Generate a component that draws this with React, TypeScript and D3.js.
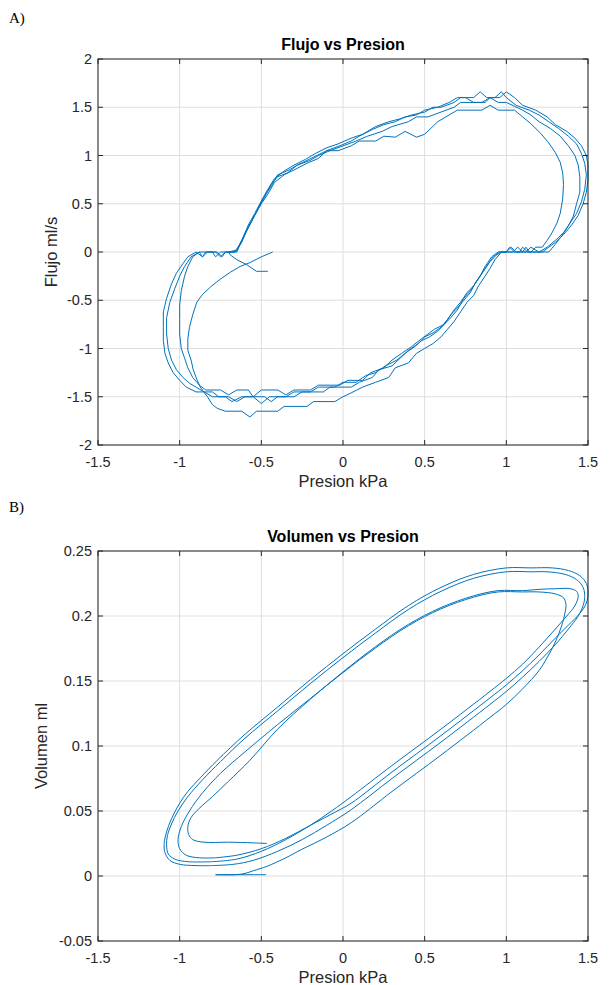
import React from "react";
import * as d3 from "d3";

type P = [number, number];

// ---- Tick values ----
const xTicks = [-1.5, -1, -0.5, 0, 0.5, 1, 1.5];
const yTicksFlow = [-2, -1.5, -1, -0.5, 0, 0.5, 1, 1.5, 2];
const yTicksVol = [-0.05, 0, 0.05, 0.1, 0.15, 0.2, 0.25];

// ---- Flujo vs Presion (pressure kPa, flow ml/s), consecutive cycles ----
const flowCycle1: P[] = [
  [-0.43, 0], [-0.5, -0.05], [-0.57, -0.11], [-0.63, -0.15], [-0.69, -0.21], [-0.75, -0.28], [-0.81, -0.36], [-0.86, -0.44],
  [-0.895, -0.52], [-0.92, -0.65], [-0.94, -0.78], [-0.95, -0.9], [-0.95, -1.02], [-0.93, -1.12], [-0.917, -1.22], [-0.895, -1.32],
  [-0.874, -1.4], [-0.83, -1.5], [-0.8, -1.58], [-0.77, -1.62], [-0.72, -1.65], [-0.62, -1.65], [-0.57, -1.71], [-0.53, -1.65],
  [-0.4, -1.65], [-0.36, -1.6], [-0.22, -1.6], [-0.18, -1.55], [-0.05, -1.55], [0.0, -1.5], [0.05, -1.46], [0.12, -1.4],
  [0.2, -1.35], [0.28, -1.3], [0.32, -1.2], [0.4, -1.15], [0.45, -1.05], [0.5, -1.0], [0.55, -0.95], [0.6, -0.88],
  [0.64, -0.8], [0.68, -0.72], [0.72, -0.62], [0.76, -0.52], [0.8, -0.45], [0.83, -0.35], [0.87, -0.25], [0.9, -0.17],
  [0.93, -0.08], [0.97, 0], [1.04, 0], [1.07, 0.05], [1.1, 0], [1.15, 0], [1.18, 0.05], [1.22, 0.05],
  [1.25, 0.12], [1.28, 0.2], [1.31, 0.3], [1.33, 0.4], [1.345, 0.55], [1.35, 0.7], [1.345, 0.82], [1.33, 0.93],
  [1.3, 1.03], [1.26, 1.13], [1.21, 1.23], [1.15, 1.33], [1.1, 1.4], [1.05, 1.47], [0.95, 1.47], [0.9, 1.52],
  [0.85, 1.47], [0.7, 1.47], [0.65, 1.42], [0.58, 1.35], [0.5, 1.22], [0.45, 1.19], [0.38, 1.25], [0.32, 1.19],
  [0.25, 1.2], [0.2, 1.15], [0.1, 1.15], [0.05, 1.1], [-0.03, 1.05], [-0.1, 1.05], [-0.15, 0.97], [-0.22, 0.92],
  [-0.3, 0.85], [-0.36, 0.8], [-0.42, 0.72], [-0.46, 0.6], [-0.5, 0.5], [-0.54, 0.38], [-0.58, 0.25], [-0.62, 0.12],
  [-0.65, 0.03], [-0.67, 0], [-0.75, 0], [-0.78, -0.05], [-0.8, 0], [-0.88, 0],
];
const flowCycle2: P[] = [
  [-0.88, 0], [-0.92, -0.05], [-0.95, -0.15], [-0.97, -0.25], [-0.99, -0.4], [-1.0, -0.55], [-1.0, -0.7], [-1.0, -0.85],
  [-0.99, -1.0], [-0.97, -1.1], [-0.95, -1.2], [-0.92, -1.3], [-0.88, -1.38], [-0.84, -1.43], [-0.75, -1.43], [-0.7, -1.48],
  [-0.65, -1.43], [-0.58, -1.43], [-0.55, -1.5], [-0.5, -1.43], [-0.4, -1.43], [-0.35, -1.48], [-0.3, -1.43], [-0.2, -1.43],
  [-0.15, -1.38], [-0.02, -1.38], [0.03, -1.33], [0.12, -1.33], [0.17, -1.25], [0.25, -1.2], [0.3, -1.12], [0.36, -1.05],
  [0.42, -0.98], [0.48, -0.9], [0.52, -0.85], [0.56, -0.8], [0.62, -0.75], [0.66, -0.65], [0.7, -0.58], [0.74, -0.5],
  [0.78, -0.42], [0.81, -0.32], [0.85, -0.22], [0.89, -0.12], [0.92, -0.05], [0.96, 0], [1.0, 0], [1.03, 0.05],
  [1.06, 0], [1.12, 0], [1.15, 0.05], [1.2, 0], [1.26, 0], [1.3, 0.08], [1.34, 0.17], [1.38, 0.27],
  [1.41, 0.37], [1.43, 0.5], [1.45, 0.62], [1.45, 0.78], [1.44, 0.9], [1.42, 1.0], [1.38, 1.1], [1.33, 1.2],
  [1.27, 1.28], [1.2, 1.35], [1.15, 1.42], [1.1, 1.47], [1.0, 1.55], [0.95, 1.55], [0.9, 1.6], [0.85, 1.55],
  [0.72, 1.55], [0.68, 1.5], [0.6, 1.45], [0.52, 1.4], [0.45, 1.4], [0.4, 1.35], [0.3, 1.3], [0.24, 1.25],
  [0.15, 1.2], [0.08, 1.15], [0.0, 1.1], [-0.08, 1.05], [-0.15, 1.0], [-0.2, 0.95], [-0.28, 0.9], [-0.33, 0.85],
  [-0.4, 0.8], [-0.44, 0.68], [-0.48, 0.58], [-0.52, 0.45], [-0.56, 0.32], [-0.6, 0.2], [-0.63, 0.08], [-0.65, 0],
  [-0.72, 0], [-0.74, -0.05], [-0.77, 0], [-0.83, 0], [-0.86, -0.05], [-0.9, 0],
];
const flowCycle3: P[] = [
  [-0.9, 0], [-0.95, -0.05], [-0.98, -0.12], [-1.02, -0.22], [-1.05, -0.33], [-1.08, -0.48], [-1.1, -0.62], [-1.1, -0.78],
  [-1.1, -0.92], [-1.09, -1.05], [-1.07, -1.15], [-1.04, -1.25], [-1.0, -1.33], [-0.96, -1.4], [-0.9, -1.45], [-0.8, -1.45],
  [-0.76, -1.5], [-0.7, -1.5], [-0.65, -1.55], [-0.6, -1.5], [-0.48, -1.5], [-0.44, -1.55], [-0.4, -1.5], [-0.3, -1.5],
  [-0.25, -1.45], [-0.12, -1.45], [-0.08, -1.4], [0.05, -1.4], [0.1, -1.35], [0.18, -1.3], [0.22, -1.22], [0.3, -1.18],
  [0.35, -1.1], [0.4, -1.02], [0.46, -0.95], [0.5, -0.88], [0.55, -0.84], [0.6, -0.78], [0.64, -0.7], [0.68, -0.6],
  [0.72, -0.52], [0.76, -0.42], [0.8, -0.35], [0.84, -0.25], [0.87, -0.15], [0.91, -0.05], [0.95, 0], [1.0, 0],
  [1.02, 0.05], [1.05, 0], [1.1, 0], [1.12, 0.05], [1.14, 0], [1.2, 0], [1.25, 0.05], [1.3, 0.12],
  [1.35, 0.2], [1.39, 0.3], [1.43, 0.4], [1.46, 0.52], [1.48, 0.65], [1.49, 0.8], [1.48, 0.92], [1.46, 1.02],
  [1.43, 1.12], [1.38, 1.2], [1.32, 1.28], [1.26, 1.35], [1.2, 1.42], [1.14, 1.47], [1.06, 1.52], [1.0, 1.6],
  [0.97, 1.66], [0.93, 1.6], [0.88, 1.6], [0.84, 1.66], [0.8, 1.6], [0.72, 1.6], [0.68, 1.55], [0.6, 1.5],
  [0.55, 1.5], [0.5, 1.45], [0.42, 1.42], [0.35, 1.38], [0.28, 1.35], [0.2, 1.3], [0.12, 1.22], [0.05, 1.18],
  [-0.03, 1.12], [-0.1, 1.08], [-0.17, 1.02], [-0.23, 0.96], [-0.3, 0.9], [-0.36, 0.84], [-0.42, 0.76], [-0.46, 0.65],
  [-0.5, 0.53], [-0.54, 0.4], [-0.58, 0.28], [-0.61, 0.15], [-0.64, 0.05], [-0.66, 0], [-0.72, 0], [-0.75, -0.05],
  [-0.78, 0], [-0.84, 0], [-0.86, -0.05], [-0.88, 0],
];
const flowCycle4: P[] = [
  [-0.88, 0], [-0.93, -0.05], [-0.97, -0.15], [-1.0, -0.25], [-1.03, -0.38], [-1.06, -0.52], [-1.08, -0.68], [-1.08, -0.85],
  [-1.07, -1.0], [-1.05, -1.12], [-1.02, -1.22], [-0.98, -1.3], [-0.94, -1.36], [-0.9, -1.4], [-0.85, -1.45], [-0.8, -1.5],
  [-0.72, -1.5], [-0.68, -1.55], [-0.62, -1.5], [-0.55, -1.5], [-0.5, -1.57], [-0.45, -1.5], [-0.35, -1.5], [-0.3, -1.45],
  [-0.2, -1.45], [-0.15, -1.4], [-0.05, -1.4], [0.0, -1.35], [0.08, -1.35], [0.14, -1.28], [0.2, -1.25], [0.26, -1.18],
  [0.33, -1.12], [0.38, -1.05], [0.44, -0.98], [0.48, -0.92], [0.53, -0.88], [0.58, -0.82], [0.62, -0.75], [0.66, -0.68],
  [0.7, -0.6], [0.74, -0.48], [0.78, -0.4], [0.82, -0.3], [0.86, -0.2], [0.9, -0.1], [0.94, -0.03], [0.97, 0],
  [1.08, 0], [1.1, 0.05], [1.13, 0], [1.22, 0], [1.26, 0.05], [1.3, 0.1], [1.35, 0.18], [1.4, 0.28],
  [1.44, 0.38], [1.47, 0.5], [1.49, 0.62], [1.5, 0.75], [1.5, 0.9], [1.49, 1.0], [1.46, 1.1], [1.42, 1.18],
  [1.37, 1.25], [1.3, 1.32], [1.25, 1.4], [1.18, 1.47], [1.1, 1.52], [1.05, 1.6], [1.0, 1.66], [0.96, 1.6],
  [0.9, 1.6], [0.87, 1.55], [0.8, 1.55], [0.75, 1.6], [0.7, 1.6], [0.65, 1.55], [0.58, 1.5], [0.5, 1.47],
  [0.45, 1.42], [0.38, 1.4], [0.32, 1.35], [0.25, 1.32], [0.18, 1.27], [0.1, 1.2], [0.05, 1.15], [-0.02, 1.1],
  [-0.1, 1.05], [-0.16, 1.0], [-0.22, 0.95], [-0.28, 0.9], [-0.34, 0.82], [-0.4, 0.78], [-0.44, 0.7], [-0.47, 0.6],
  [-0.51, 0.48], [-0.55, 0.35], [-0.59, 0.22], [-0.62, 0.1], [-0.65, 0.02], [-0.7, 0], [-0.69, -0.03], [-0.65, -0.08],
  [-0.59, -0.13], [-0.53, -0.2], [-0.46, -0.2],
];

// ---- Volumen vs Presion (pressure kPa, volume ml), consecutive cycles ----
const volCycle1: P[] = [
  [-0.47, 0.001], [-0.78, 0.001], [-0.66, 0.001], [-0.6, 0.002], [-0.55, 0.004], [-0.465, 0.0075], [-0.35, 0.014], [-0.26, 0.02],
  [-0.1, 0.03], [0.05, 0.041], [0.3, 0.065], [0.6, 0.093], [0.9, 0.122], [1.0, 0.132], [1.1, 0.144], [1.2, 0.158],
  [1.25, 0.168], [1.3, 0.18], [1.34, 0.193], [1.36, 0.203], [1.365, 0.209], [1.35, 0.214], [1.3, 0.217], [1.2, 0.2185],
  [1.1, 0.2185], [0.95, 0.2185], [0.8, 0.2145], [0.6, 0.2055], [0.4, 0.1925], [0.2, 0.1755], [0.0, 0.1565], [-0.2, 0.1365],
  [-0.4, 0.1165], [-0.6, 0.0955], [-0.75, 0.079], [-0.86, 0.064], [-0.94, 0.05], [-0.99, 0.038], [-1.01, 0.028], [-1.0, 0.021],
  [-0.96, 0.016], [-0.88, 0.014], [-0.78, 0.014],
];
const volCycle2: P[] = [
  [-0.78, 0.014], [-0.65, 0.016], [-0.5, 0.021], [-0.35, 0.029], [-0.2, 0.039], [-0.05, 0.049], [0.05, 0.056], [0.3, 0.08],
  [0.6, 0.108], [0.9, 0.137], [1.0, 0.147], [1.1, 0.158], [1.2, 0.17], [1.3, 0.183], [1.38, 0.193], [1.45, 0.202],
  [1.49, 0.21], [1.5, 0.218], [1.49, 0.225], [1.45, 0.231], [1.38, 0.235], [1.28, 0.237], [1.15, 0.237], [1.0, 0.237],
  [0.8, 0.232], [0.6, 0.222], [0.4, 0.208], [0.2, 0.19], [0.0, 0.171], [-0.2, 0.151], [-0.4, 0.13], [-0.6, 0.109],
  [-0.77, 0.089], [-0.87, 0.076], [-0.95, 0.065], [-1.0, 0.056], [-1.05, 0.044], [-1.08, 0.034], [-1.095, 0.025], [-1.09, 0.018],
  [-1.06, 0.012], [-1.0, 0.009], [-0.9, 0.008], [-0.8, 0.008],
];
const volCycle3: P[] = [
  [-0.8, 0.008], [-0.67, 0.009], [-0.55, 0.012], [-0.4, 0.019], [-0.25, 0.028], [-0.1, 0.039], [0.05, 0.051], [0.3, 0.075],
  [0.6, 0.103], [0.9, 0.132], [1.0, 0.142], [1.1, 0.153], [1.2, 0.165], [1.3, 0.178], [1.38, 0.19], [1.44, 0.2],
  [1.47, 0.208], [1.48, 0.215], [1.47, 0.222], [1.43, 0.228], [1.36, 0.232], [1.25, 0.234], [1.15, 0.234], [1.0, 0.234],
  [0.8, 0.229], [0.6, 0.219], [0.4, 0.205], [0.2, 0.187], [0.0, 0.168], [-0.2, 0.148], [-0.4, 0.127], [-0.6, 0.106],
  [-0.75, 0.088], [-0.86, 0.074], [-0.95, 0.061], [-1.01, 0.05], [-1.05, 0.04], [-1.075, 0.031], [-1.08, 0.024], [-1.07, 0.017],
  [-1.03, 0.013], [-0.95, 0.011], [-0.8, 0.011],
];
const volCycle4: P[] = [
  [-0.8, 0.011], [-0.65, 0.013], [-0.5, 0.019], [-0.35, 0.028], [-0.2, 0.039], [-0.07, 0.05], [0.05, 0.061], [0.3, 0.085],
  [0.6, 0.113], [0.9, 0.142], [1.0, 0.152], [1.1, 0.163], [1.2, 0.176], [1.3, 0.19], [1.37, 0.2], [1.42, 0.208],
  [1.44, 0.215], [1.43, 0.219], [1.39, 0.221], [1.3, 0.221], [1.2, 0.2205], [1.1, 0.2195], [0.95, 0.2195], [0.8, 0.2155],
  [0.6, 0.2065], [0.4, 0.1935], [0.2, 0.1765], [0.0, 0.157], [-0.2, 0.136], [-0.4, 0.113], [-0.57, 0.089], [-0.7, 0.073],
  [-0.8, 0.061], [-0.88, 0.052], [-0.93, 0.045], [-0.95, 0.038], [-0.945, 0.032], [-0.92, 0.028], [-0.85, 0.026], [-0.7, 0.026],
  [-0.55, 0.0255], [-0.465, 0.025],
];

const flowData: P[] = [...flowCycle1, ...flowCycle2, ...flowCycle3, ...flowCycle4];
const volData: P[] = [...volCycle1, ...volCycle2, ...volCycle3, ...volCycle4];

const LINE = "#0072BD";
const AXIS = "#262626";
const GRID = "#dedede";
const FONT = "'Liberation Sans', Arial, Helvetica, sans-serif";

type PanelProps = {
  top: number;
  bottom: number;
  yDomain: [number, number];
  yTicks: number[];
  data: P[];
  title: string;
  yLabel: string;
  yLabelX: number;
  smooth: boolean;
};

const LEFT = 98;
const RIGHT = 588;

function Panel({ top, bottom, yDomain, yTicks, data, title, yLabel, yLabelX, smooth }: PanelProps) {
  const x = d3.scaleLinear().domain([-1.5, 1.5]).range([LEFT, RIGHT]);
  const y = d3.scaleLinear().domain(yDomain).range([bottom, top]);
  const line = d3
    .line<P>()
    .x((d) => x(d[0]))
    .y((d) => y(d[1]))
    .curve(smooth ? d3.curveCatmullRom.alpha(0.5) : d3.curveLinear);
  const tick = 5;
  return (
    <g>
      {xTicks.map((t) => (
        <line key={"gx" + t} x1={x(t)} x2={x(t)} y1={top} y2={bottom} stroke={GRID} strokeWidth={1} />
      ))}
      {yTicks.map((t) => (
        <line key={"gy" + t} x1={LEFT} x2={RIGHT} y1={y(t)} y2={y(t)} stroke={GRID} strokeWidth={1} />
      ))}
      <path d={line(data) || ""} fill="none" stroke={LINE} strokeWidth={1} strokeLinejoin="round" />
      <rect x={LEFT} y={top} width={RIGHT - LEFT} height={bottom - top} fill="none" stroke={AXIS} strokeWidth={1} />
      {xTicks.map((t) => (
        <g key={"tx" + t}>
          <line x1={x(t)} x2={x(t)} y1={bottom} y2={bottom - tick} stroke={AXIS} />
          <line x1={x(t)} x2={x(t)} y1={top} y2={top + tick} stroke={AXIS} />
          <text x={x(t)} y={bottom + 22} textAnchor="middle" fontFamily={FONT} fontSize={14.5} fill={AXIS}>
            {String(t)}
          </text>
        </g>
      ))}
      {yTicks.map((t) => (
        <g key={"ty" + t}>
          <line x1={LEFT} x2={LEFT + tick} y1={y(t)} y2={y(t)} stroke={AXIS} />
          <line x1={RIGHT} x2={RIGHT - tick} y1={y(t)} y2={y(t)} stroke={AXIS} />
          <text x={LEFT - 6} y={y(t) + 5} textAnchor="end" fontFamily={FONT} fontSize={14.5} fill={AXIS}>
            {String(t)}
          </text>
        </g>
      ))}
      <text x={(LEFT + RIGHT) / 2} y={top - 9} textAnchor="middle" fontFamily={FONT} fontSize={16} fontWeight="bold" fill="#000">
        {title}
      </text>
      <text x={(LEFT + RIGHT) / 2} y={bottom + 42} textAnchor="middle" fontFamily={FONT} fontSize={16.5} fill={AXIS}>
        Presion kPa
      </text>
      <text
        transform={`translate(${yLabelX},${(top + bottom) / 2}) rotate(-90)`}
        textAnchor="middle"
        fontFamily={FONT}
        fontSize={16.5}
        fill={AXIS}
      >
        {yLabel}
      </text>
    </g>
  );
}

export default function App() {
  return (
    <svg
      width={611}
      height={985}
      viewBox="0 0 611 985"
      style={{ position: "absolute", left: 0, top: 0, background: "#fff" }}
    >
      <rect x={0} y={0} width={611} height={985} fill="#fff" />
      <text x={9} y={23} fontFamily="'Liberation Serif', 'Times New Roman', serif" fontSize={15} fill="#000">
        A)
      </text>
      <text x={9} y={512} fontFamily="'Liberation Serif', 'Times New Roman', serif" fontSize={15} fill="#000">
        B)
      </text>
      <Panel
        top={59}
        bottom={445}
        yDomain={[-2, 2]}
        yTicks={yTicksFlow}
        data={flowData}
        title="Flujo vs Presion"
        yLabel="Flujo ml/s"
        yLabelX={57}
        smooth={false}
      />
      <Panel
        top={551}
        bottom={941}
        yDomain={[-0.05, 0.25]}
        yTicks={yTicksVol}
        data={volData}
        title="Volumen vs Presion"
        yLabel="Volumen ml"
        yLabelX={47}
        smooth={true}
      />
    </svg>
  );
}
